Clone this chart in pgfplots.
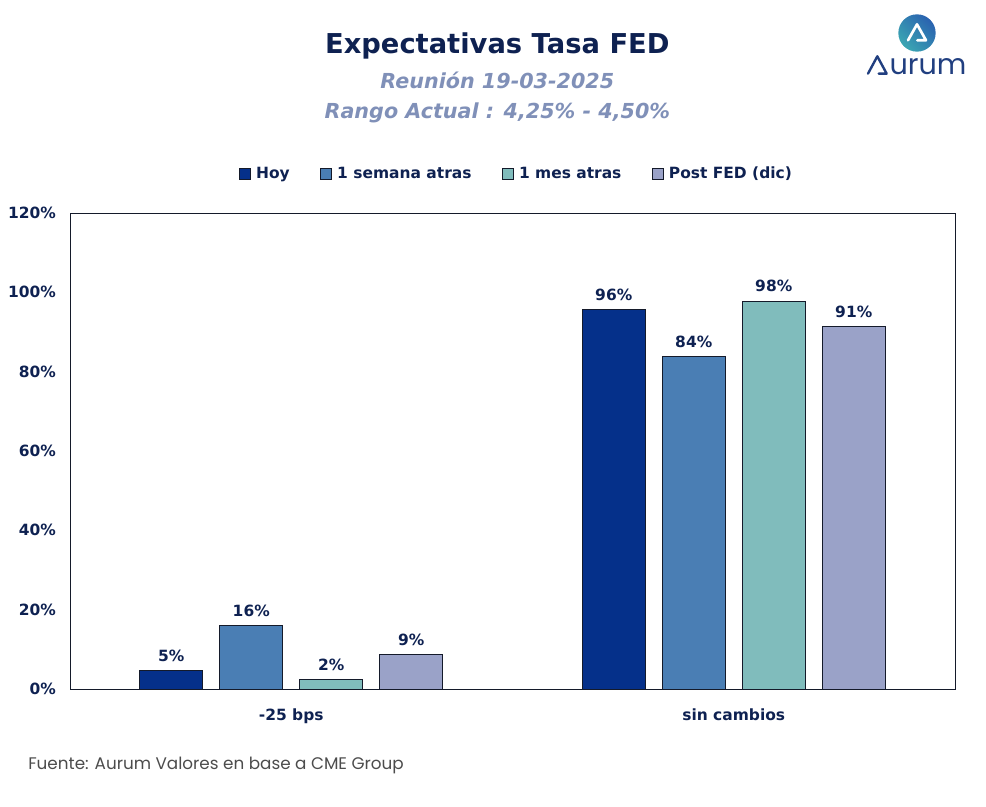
\documentclass[border=0pt]{standalone}
\usepackage{pgfplots}
\pgfplotsset{compat=1.18}
\usepackage{fontspec}
\setmainfont{DejaVu Sans}
\newfontfamily\footfont{Poppins}
\definecolor{cHoy}{HTML}{05308A}
\definecolor{cSem}{HTML}{4A7EB4}
\definecolor{cMes}{HTML}{80BCBC}
\definecolor{cPost}{HTML}{9AA2C8}
\definecolor{navy}{HTML}{0E2151}
\definecolor{subt}{HTML}{8090B8}
\definecolor{edge}{HTML}{141A2A}
\definecolor{logoA}{HTML}{2A62B0}
\definecolor{logoB}{HTML}{3BA6B2}
\definecolor{logoT}{HTML}{213F80}
\begin{document}
\begin{tikzpicture}
\useasboundingbox (0,0) rectangle (739.5pt,605.25pt);
\begin{axis}[
  at={(52.5pt,88.5pt)}, anchor=south west,
  scale only axis, width=663.75pt, height=357pt,
  xmin=-0.5, xmax=1.5, ymin=0, ymax=120,
  xtick={0,1}, xticklabels={-25 bps, sin cambios},
  ytick={0,20,40,60,80,100,120},
  yticklabel={\pgfmathprintnumber{\tick}\%},
  /pgf/number format/assume math mode=true,
  major tick length=0pt,
  tick label style={font=\bfseries\fontsize{11.6}{13}\selectfont, text=navy},
  xticklabel style={yshift=-11pt},
  yticklabel style={xshift=-7pt},
  axis line style={draw=edge, line width=0.6pt},
  ybar, bar width=47.25pt,
  nodes near coords={\pgfmathprintnumber[fixed,precision=0]{\pgfplotspointmeta}\%},
  every node near coord/.append style={font=\bfseries\fontsize{11.6}{13}\selectfont, text=navy, yshift=3pt},
  legend columns=4,
  legend style={at={(0.505,1.082)}, anchor=center, draw=none, fill=none,
    font=\bfseries\fontsize{11.6}{13}\selectfont, text=navy,
    /tikz/every odd column/.append style={column sep=2pt},
    /tikz/every even column/.append style={column sep=21pt}},
  legend image code/.code={\draw[#1, line width=0.6pt] (0pt,-4pt) rectangle (8pt,4pt);},
]
\addplot[fill=cHoy, draw=edge, line width=0.6pt, bar shift=-90pt] coordinates {(0,4.6) (1,95.6)};
\addplot[fill=cSem, draw=edge, line width=0.6pt, bar shift=-30pt] coordinates {(0,16.1) (1,83.9)};
\addplot[fill=cMes, draw=edge, line width=0.6pt, bar shift=30pt] coordinates {(0,2.3) (1,97.8)};
\addplot[fill=cPost, draw=edge, line width=0.6pt, bar shift=90pt] coordinates {(0,8.6) (1,91.4)};
\legend{Hoy, 1 semana atras, 1 mes atras, Post FED (dic)}
\end{axis}
% titles
\node[font=\bfseries\fontsize{20.5}{24}\selectfont, text=navy] at (373pt,571pt) {Expectativas Tasa FED};
\node[font=\bfseries\itshape\fontsize{15.5}{18}\selectfont, text=subt] at (373pt,545pt) {Reunión 19-03-2025};
\node[font=\bfseries\itshape\fontsize{15.5}{18}\selectfont, text=subt] at (373pt,520.5pt) {Rango Actual : 4,25\% - 4,50\%};
% footer
\node[font=\footfont\fontsize{12.6}{14}\selectfont, text=black!70, anchor=west, inner sep=0pt] at (21pt,31.5pt) {Fuente: Aurum Valores en base a CME Group};
% logo
\shade[left color=logoA, right color=logoB, shading angle=-45] (687.75pt,580.5pt) circle (14pt);
\draw[white, line width=2pt, line join=round, line cap=round] (681pt,575pt) -- (687.75pt,587pt) -- (694.5pt,575pt) -- (688pt,575pt);
\draw[logoT, line width=1.8pt, line join=round, line cap=round] (651pt,550pt) -- (658pt,563pt) -- (665pt,550pt) -- (659pt,550pt);
\node[font=\footfont\fontsize{21.5}{23}\selectfont, text=logoT, anchor=base west, inner sep=0pt] at (667pt,549.5pt) {urum};
\end{tikzpicture}
\end{document}
